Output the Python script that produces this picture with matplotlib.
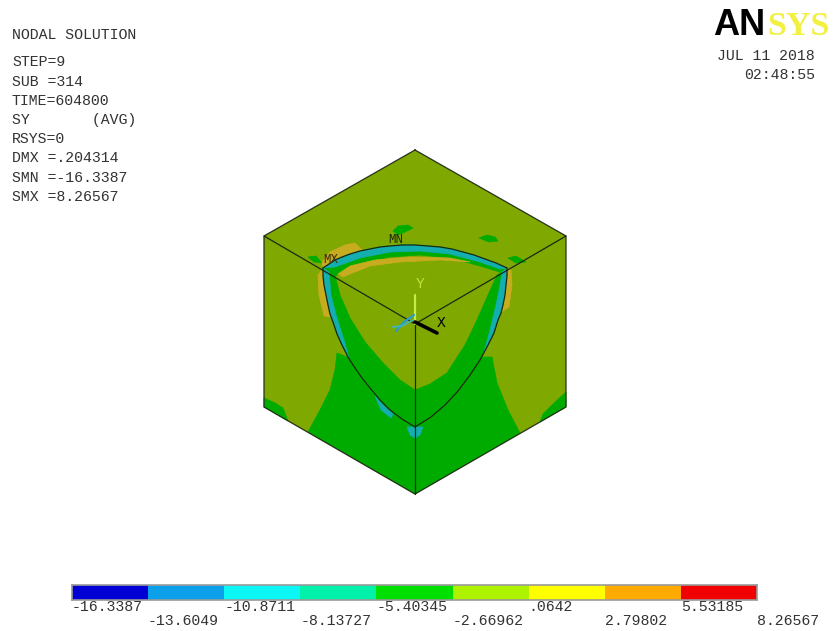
import matplotlib
matplotlib.use('Agg')
import matplotlib.pyplot as plt

plt.rcParams['font.family'] = ['Liberation Mono', 'DejaVu Sans Mono']

# Legend values
levels = [-16.3387, -13.6049, -10.8711, -8.13727, -5.40345, -2.66962, .0642, 2.79802, 5.53185, 8.26567]
level_labels = ['-16.3387', '-13.6049', '-10.8711', '-8.13727', '-5.40345',
                '-2.66962', '.0642', '2.79802', '5.53185', '8.26567']
level_colors = ['#0000d4', '#0ca0ea', '#0cf6f6', '#00f2aa', '#00e000',
                '#aef200', '#ffff00', '#ffaa00', '#f00000']

# Text blocks
info_title = 'NODAL SOLUTION'
info_lines = ['STEP=9', 'SUB =314', 'TIME=604800', 'SY       (AVG)', 'RSYS=0',
              'DMX =.204314', 'SMN =-16.3387', 'SMX =8.26567']
date_lines = ['JUL 11 2018', '02:48:55']

# Cube outline, in image pixels
cube_x = [415, 566, 566, 415, 264, 264, 415]
cube_y = [150, 236, 407, 494, 407, 236, 150]
edge_a = [(264, 236), (415, 324)]
edge_b = [(566, 236), (415, 324)]
edge_c = [(415, 324), (415, 494)]

top_arc = [(323, 268), (329, 264), (335, 260), (342, 257), (350, 254), (360, 251), (370, 249),
           (380, 247), (390, 246), (402, 245), (415, 245), (428, 246), (440, 247), (452, 249),
           (463, 252), (474, 255), (485, 259), (496, 263), (507, 268)]
left_arc = [(323, 268), (323, 276), (324, 285), (326, 295), (328, 305), (330, 314), (333, 322),
            (337, 334), (342, 345), (348, 357), (355, 368), (362, 378), (370, 388), (380, 400),
            (390, 410), (402, 419), (415, 427)]
right_arc = [(507, 268), (507, 276), (506, 285), (505, 295), (503, 305), (501, 313), (498, 320),
             (494, 333), (488, 345), (480, 360), (470, 375), (458, 391), (445, 405), (431, 417),
             (415, 427)]

# Contour regions
low_green = [(308, 432), (320, 410), (330, 390), (335, 370), (337, 353), (347, 357),
             (355, 368), (370, 388), (390, 410), (415, 427), (445, 405), (470, 375),
             (480, 357), (492, 357), (497, 383), (508, 410), (520, 433), (415, 494)]
corner_left = [(264, 398), (275, 403), (283, 408), (288, 421), (264, 407)]
corner_right = [(540, 422), (543, 414), (552, 405), (566, 392), (566, 407)]
u_band = left_arc + right_arc[::-1] + [(497, 275), (488, 295), (477, 320), (465, 345),
         (447, 373), (430, 384), (415, 390), (400, 380), (383, 363), (365, 342),
         (350, 318), (340, 295), (335, 275)]
top_band = top_arc + [(503, 273), (480, 266), (450, 258), (420, 255), (390, 257),
                      (360, 263), (335, 276)]
teal_top = top_arc + [(500, 269), (480, 262), (450, 254), (420, 251), (390, 252),
                      (360, 258), (335, 267)]
teal_left = [(323, 268), (324, 285), (328, 305), (333, 322), (342, 345), (349, 358),
             (344, 340), (337, 318), (331, 295), (329, 272)]
teal_right = [(507, 268), (506, 285), (503, 305), (498, 320), (488, 345), (484, 352),
              (490, 330), (496, 305), (500, 285), (502, 272)]
teal_low = [(407, 427), (415, 427), (423, 427), (420, 435), (415, 438), (410, 435)]
teal_low2 = [(375, 396), (382, 404), (393, 414), (391, 418), (381, 410)]
orange_top = [(322, 262), (330, 252), (345, 245), (355, 243), (362, 250), (350, 254),
              (335, 260), (323, 268)]
orange_inner = [(338, 274), (350, 266), (375, 260), (410, 257), (450, 258), (470, 262),
                (440, 260), (400, 262), (370, 266), (350, 274), (343, 277)]
orange_left = [(323, 268), (324, 285), (328, 305), (331, 317), (324, 316), (319, 295), (318, 275)]
orange_right = [(507, 268), (506, 285), (503, 305), (501, 312), (509, 307), (512, 285), (511, 270)]
blob_a = [(393, 231), (398, 226), (408, 225), (413, 228), (405, 232), (398, 235)]
blob_b = [(479, 238), (487, 235), (495, 237), (498, 241), (489, 242)]
blob_c = [(508, 258), (516, 256), (526, 262), (516, 263)]
blob_d = [(308, 257), (316, 256), (322, 263), (314, 262)]

# Triad
triad_y = [(415, 324), (415, 295)]
triad_x = [(415, 322), (437, 333)]
triad_b = [(396, 331), (404, 322), (414, 315)]
triad_t = [(392, 327), (402, 326), (413, 320)]

olive = '#7fa800'
dark_green = '#00ab00'
teal = '#12aeb0'
orange = '#c8ac20'

fig = plt.figure(figsize=(8.33, 6.31), dpi=100)
ax = fig.add_axes([0, 0, 1, 1])
ax.set_xlim(0, 833)
ax.set_ylim(631, 0)
ax.axis('off')


def fill(pts, color):
    ax.fill([p[0] for p in pts], [p[1] for p in pts], color=color, lw=0.5)


def line(pts, color='#1a2a10', lw=0.9):
    ax.plot([p[0] for p in pts], [p[1] for p in pts], color=color, lw=lw,
            solid_capstyle='round')


ax.fill(cube_x, cube_y, color=olive, lw=0)
for reg in [low_green, corner_left, corner_right, u_band, top_band, blob_a, blob_b, blob_c, blob_d]:
    fill(reg, dark_green)
for reg in [orange_top, orange_inner, orange_left, orange_right]:
    fill(reg, orange)
for reg in [teal_top, teal_left, teal_right, teal_low, teal_low2]:
    fill(reg, teal)

ax.plot(cube_x, cube_y, color='#24301a', lw=0.9)
for e in [edge_a, edge_b, edge_c, top_arc, left_arc, right_arc]:
    line(e)

# Triad and labels
line(triad_y, '#c8ec40', 1.6)
line(triad_b, '#2a9ad0', 1.6)
line(triad_t, '#40b8c0', 1.2)
line(triad_x, 'black', 2.6)
ax.text(420, 284, 'Y', color='#c0e040', fontsize=10.5, ha='center', va='center')
ax.text(441, 323, 'X', color='black', fontsize=10.5, ha='center', va='center')
ax.text(396, 240, 'MN', color='#1a2a10', fontsize=9, ha='center', va='center')
ax.text(331, 260, 'MX', color='#3a2a10', fontsize=9, ha='center', va='center')

# Left info block
ax.text(12, 35, info_title, fontsize=10.7, color='#333333', va='center')
for i, t in enumerate(info_lines):
    ax.text(12, 62.5 + i * 19.2, t, fontsize=10.7, color='#333333', va='center')

# Logo and date
ax.text(713, 35, 'AN', fontsize=26, fontweight='bold', color='black',
        family='Liberation Sans', va='baseline')
ax.text(767, 35, 'SYS', fontsize=24.5, fontweight='bold', color='#f2f040',
        family='Liberation Serif', va='baseline')
ax.text(815, 56, date_lines[0], fontsize=10.7, color='#333333', ha='right', va='center')
ax.text(815, 75, date_lines[1], fontsize=10.7, color='#333333', ha='right', va='center')

# Colour bar
cax = fig.add_axes([72 / 833, 1 - 600 / 631, (757 - 72) / 833, 15 / 631])
cax.set_xlim(levels[0], levels[-1])
cax.set_ylim(0, 1)
for i in range(len(level_colors)):
    cax.barh(0.5, levels[i + 1] - levels[i], left=levels[i], height=1, color=level_colors[i], lw=0)
cax.set_xticks([])
cax.set_yticks([])
for s in cax.spines.values():
    s.set_color('#9a9a9a')
    s.set_linewidth(1.2)
for i, t in enumerate(level_labels):
    y = -0.47 if i % 2 == 0 else -1.4
    cax.text(levels[i], y, t, fontsize=10.7, color='#333333', ha='left', va='center', clip_on=False)

fig.savefig('out.png', dpi=100)
